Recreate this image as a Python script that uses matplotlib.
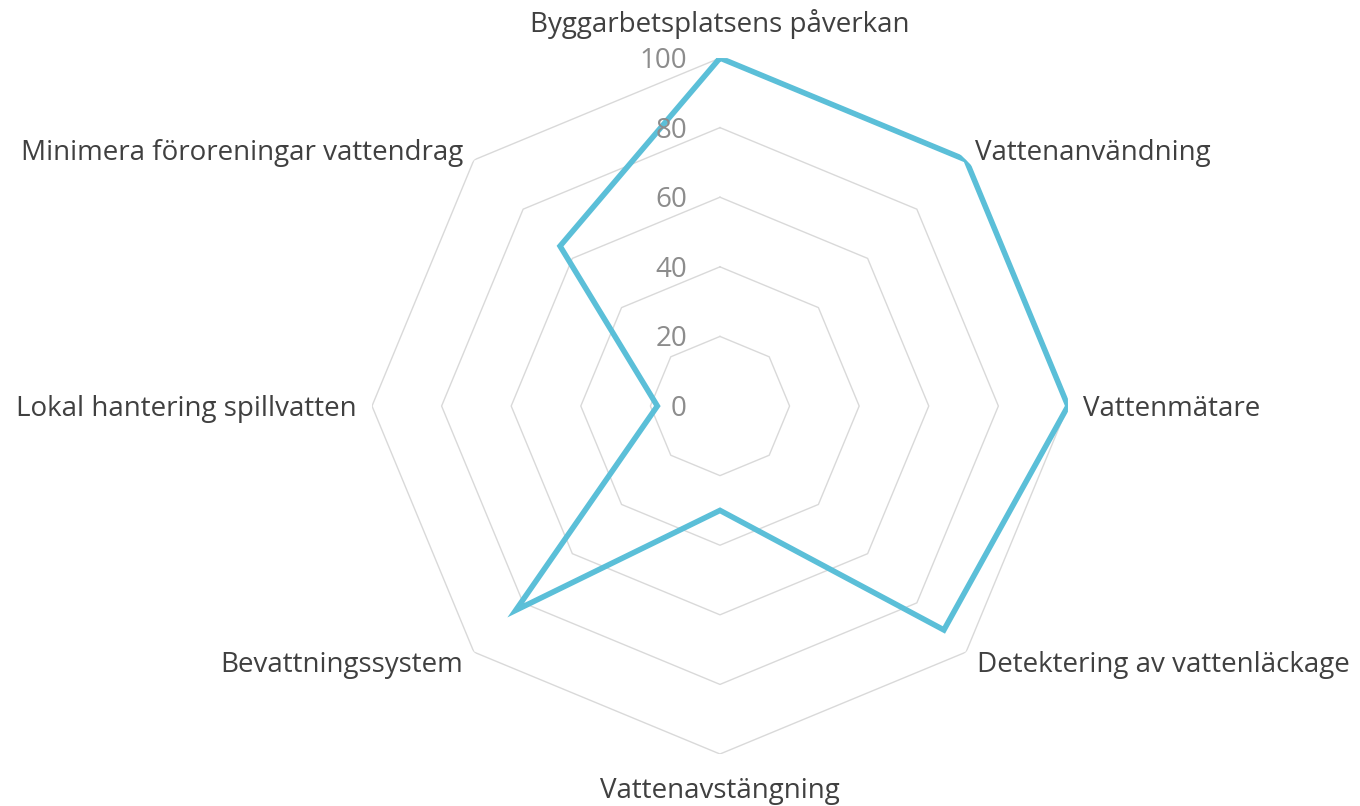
import numpy as np
import matplotlib
matplotlib.use("Agg")
import matplotlib.pyplot as plt

categories = ["Byggarbetsplatsens påverkan", "Vattenanvändning", "Vattenmätare",
              "Detektering av vattenläckage", "Vattenavstängning", "Bevattningssystem",
              "Lokal hantering spillvatten", "Minimera föroreningar vattendrag"]
values = [100, 100, 100, 91, 30, 83, 18, 65]
ticks = [0, 20, 40, 60, 80, 100]

plt.rcParams['font.family'] = ['Open Sans', 'DejaVu Sans']

fig = plt.figure(figsize=(13.6, 8.06), dpi=100)
ax = fig.add_axes([0.2735, 0.0645, 0.5118, 0.8635], projection='polar')
ax.set_theta_offset(np.pi / 2)
ax.set_theta_direction(-1)
ax.set_ylim(0, 100)
ax.grid(False)
ax.spines['polar'].set_visible(False)
ax.set_xticks([])
ax.set_yticks([])

n = len(categories)
angles = np.arange(n) * 2 * np.pi / n
closed = np.append(angles, angles[0])

for t in ticks[1:]:
    ax.plot(closed, [t] * (n + 1), color='#d9d9d9', lw=1.0, zorder=1)

ax.plot(closed, values + [values[0]], color='#5bbfd8', lw=4.0, zorder=3,
        solid_joinstyle='miter')

for t in ticks:
    ax.annotate(str(t), xy=(0, t), xytext=(-33, -3), textcoords='offset pixels',
                ha='right', va='center', fontsize=20, color='#8c8c8c')

offsets = [(0, 34, 'center'), (9, 7, 'left'), (15, -3, 'left'), (11, -13, 'left'),
           (0, -37, 'center'), (-11, -13, 'right'), (-15, -3, 'right'), (-11, 7, 'right')]
for ang, lab, (dx, dy, ha) in zip(angles, categories, offsets):
    ax.annotate(lab, xy=(ang, 100), xytext=(dx, dy), textcoords='offset pixels',
                ha=ha, va='center', fontsize=20, color='#404040', annotation_clip=False)

fig.savefig("out.png", dpi=100)
